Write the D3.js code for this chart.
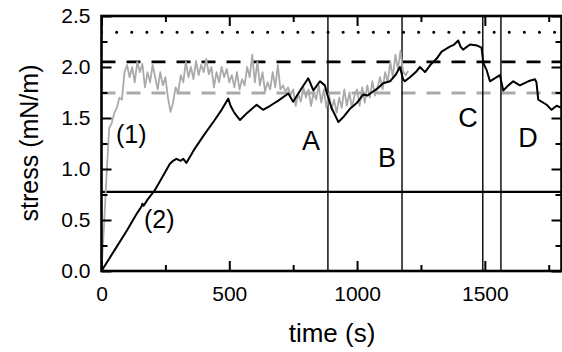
<!DOCTYPE html>
<html>
<head>
<meta charset="utf-8">
<script src="https://cdn.jsdelivr.net/npm/d3@7"></script>
<style>
  body { margin: 0; background: #fff; }
  svg { display: block; }
  text { font-family: "Liberation Sans", Arial, sans-serif; fill: #000; }
</style>
</head>
<body>
<svg></svg>
<script>
// curve (1), sampled every 10 s from t = 0
const graySamples = [
  0, 0.45, 0.95, 1.4, 1.45, 1.55, 1.6, 1.7, 1.68, 1.95,
  2.02, 1.9, 2.0, 1.85, 2.05, 1.95, 2.03, 1.8, 1.95, 1.85,
  2.02, 1.9, 1.78, 1.95, 1.82, 1.9, 1.7, 1.56, 1.65, 1.8,
  1.75, 1.92, 1.85, 2.05, 1.9, 2.0, 1.88, 2.06, 1.92, 2.02,
  1.95, 2.08, 1.93, 2.0, 1.8, 1.95, 1.85, 2.0, 1.9, 1.98,
  1.85, 1.92, 1.8, 1.95, 1.78, 1.88, 1.82, 2.0, 1.9, 2.12,
  1.85, 2.05, 1.82, 1.95, 1.76, 1.85, 1.78, 1.95, 1.8, 2.02,
  1.78, 1.82, 1.76, 1.8, 1.72, 1.78, 1.62, 1.74, 1.66, 1.8,
  1.7, 1.78, 1.62, 1.75, 1.68, 1.82, 1.65, 1.78, 1.6, 1.74,
  1.58, 1.68, 1.55, 1.7, 1.6, 1.78, 1.62, 1.75, 1.6, 1.72,
  1.78, 1.62, 1.8, 1.65, 1.82, 1.7, 1.86, 1.72, 1.8, 1.9,
  1.78, 1.95, 1.85, 2.05, 1.9, 2.12, 1.98, 2.16, 1.96, 1.92,
  1.96
];
const grayStep = 10;

// curve (2)
const blackTimes = [
  0, 50, 100, 140, 156, 160, 165, 180, 208, 240, 267, 280, 293, 310, 320, 332,
  360, 400, 443, 470, 496, 505, 520, 542, 570, 607, 632, 660, 692, 731, 750,
  780, 809, 829, 855, 874, 881, 900, 927, 950, 972, 1000, 1024, 1040, 1063,
  1080, 1102, 1129, 1150, 1168, 1180, 1187, 1207, 1230, 1246, 1266, 1290,
  1311, 1331, 1363, 1380, 1396, 1405, 1415, 1442, 1470, 1487, 1494, 1507,
  1520, 1540, 1559, 1565, 1572, 1592, 1611, 1637, 1670, 1696, 1702, 1709,
  1742, 1761, 1781, 1800
];
const blackValues = [
  0, 0.2, 0.4, 0.57, 0.63, 0.66, 0.64, 0.7, 0.79, 0.93, 1.05, 1.08, 1.1, 1.08, 1.1, 1.06,
  1.18, 1.33, 1.48, 1.58, 1.69, 1.62, 1.55, 1.48, 1.55, 1.63, 1.58, 1.62, 1.67, 1.74, 1.66,
  1.78, 1.89, 1.77, 1.86, 1.82, 1.75, 1.6, 1.46, 1.52, 1.59, 1.65, 1.73, 1.72, 1.76,
  1.79, 1.84, 1.86, 1.92, 2.0, 1.88, 1.86, 1.9, 1.95, 2.0, 1.95, 2.03,
  2.08, 2.15, 2.2, 2.22, 2.26, 2.2, 2.17, 2.22, 2.21, 2.19, 2.04, 1.97,
  1.86, 1.89, 1.92, 1.85, 1.77, 1.82, 1.86, 1.82, 1.86, 1.88, 1.85, 1.68,
  1.63, 1.58, 1.62, 1.6
];

// reference levels and event markers
const dottedLevel = 2.34;
const dashedLevel = 2.05;
const grayDashedLevel = 1.745;
const solidLevel = 0.775;
const eventTimes = [886, 1176, 1492, 1563];
const eventNames = ['A', 'B', 'C', 'D'];

const xMajor = [0, 500, 1000, 1500];
const xMinor = [250, 750, 1250, 1750];
const yMajor = [0, 0.5, 1.0, 1.5, 2.0, 2.5];
const yMinor = [0.25, 0.75, 1.25, 1.75, 2.25];

const width = 562;
const height = 352;
const svg = d3.select('svg').attr('width', width).attr('height', height);

const x = d3.scaleLinear().domain([0, 1800]).range([101.5, 561.5]);
const y = d3.scaleLinear().domain([0, 2.5]).range([271, 16]);

const plotLeft = x.range()[0], plotRight = x.range()[1];
const plotTop = y.range()[1], plotBottom = y.range()[0];

svg.append('clipPath').attr('id', 'plot')
  .append('rect')
  .attr('x', plotLeft).attr('y', plotTop)
  .attr('width', plotRight - plotLeft).attr('height', plotBottom - plotTop);

const plot = svg.append('g').attr('clip-path', 'url(#plot)');

// horizontal reference lines
const hline = (v, color, w, dash, cap) => {
  plot.append('line')
    .attr('x1', plotLeft).attr('x2', plotRight)
    .attr('y1', y(v)).attr('y2', y(v))
    .attr('stroke', color)
    .attr('stroke-width', w)
    .attr('stroke-dasharray', dash)
    .attr('stroke-linecap', cap || 'butt');
};
hline(dottedLevel, '#000', 3, '0.1 15', 'round');
hline(dashedLevel, '#000', 2.8, '14 11');
hline(grayDashedLevel, '#aaa', 2.8, '14 11');
hline(solidLevel, '#000', 2.2, null);

// event markers
plot.selectAll('.event')
  .data(eventTimes)
  .enter()
  .append('line')
  .attr('class', 'event')
  .attr('x1', d => x(d)).attr('x2', d => x(d))
  .attr('y1', plotTop).attr('y2', plotBottom)
  .attr('stroke', '#000')
  .attr('stroke-width', 1.4);

// curves
const grayData = graySamples.map((v, i) => [i * grayStep, v]);
const blackData = blackTimes.map((t, i) => [t, blackValues[i]]);
const line = d3.line().x(d => x(d[0])).y(d => y(d[1]));

plot.append('path')
  .datum(grayData)
  .attr('d', line)
  .attr('fill', 'none')
  .attr('stroke', '#aaa')
  .attr('stroke-width', 1.8)
  .attr('stroke-linejoin', 'round');

plot.append('path')
  .datum(blackData)
  .attr('d', line)
  .attr('fill', 'none')
  .attr('stroke', '#000')
  .attr('stroke-width', 2)
  .attr('stroke-linejoin', 'round');

// axes: inward ticks on all four sides
const styleAxis = (g) => {
  g.select('.domain').remove();
  g.selectAll('.tick line').attr('stroke', '#000').attr('stroke-width', 2);
  g.selectAll('.tick text').style('font-size', '21px').attr('fill', '#000');
};

svg.append('g').attr('transform', `translate(0,${plotBottom})`)
  .call(d3.axisBottom(x).tickValues(xMajor).tickFormat(d3.format('d'))
    .tickSizeInner(-10).tickSizeOuter(0).tickPadding(15))
  .call(styleAxis);
svg.append('g').attr('transform', `translate(0,${plotBottom})`)
  .call(d3.axisBottom(x).tickValues(xMinor).tickFormat('').tickSizeInner(-6).tickSizeOuter(0))
  .call(styleAxis);
svg.append('g').attr('transform', `translate(0,${plotTop})`)
  .call(d3.axisTop(x).tickValues(xMajor).tickFormat('').tickSizeInner(-10).tickSizeOuter(0))
  .call(styleAxis);
svg.append('g').attr('transform', `translate(0,${plotTop})`)
  .call(d3.axisTop(x).tickValues(xMinor).tickFormat('').tickSizeInner(-6).tickSizeOuter(0))
  .call(styleAxis);

svg.append('g').attr('transform', `translate(${plotLeft},0)`)
  .call(d3.axisLeft(y).tickValues(yMajor).tickFormat(d3.format('.1f'))
    .tickSizeInner(-10).tickSizeOuter(0).tickPadding(11))
  .call(styleAxis);
svg.append('g').attr('transform', `translate(${plotLeft},0)`)
  .call(d3.axisLeft(y).tickValues(yMinor).tickFormat('').tickSizeInner(-6).tickSizeOuter(0))
  .call(styleAxis);
svg.append('g').attr('transform', `translate(${plotRight},0)`)
  .call(d3.axisRight(y).tickValues(yMajor).tickFormat('').tickSizeInner(-10).tickSizeOuter(0))
  .call(styleAxis);
svg.append('g').attr('transform', `translate(${plotRight},0)`)
  .call(d3.axisRight(y).tickValues(yMinor).tickFormat('').tickSizeInner(-6).tickSizeOuter(0))
  .call(styleAxis);

// frame
svg.append('rect')
  .attr('x', plotLeft).attr('y', plotTop)
  .attr('width', plotRight - plotLeft).attr('height', plotBottom - plotTop)
  .attr('fill', 'none')
  .attr('stroke', '#000')
  .attr('stroke-width', 2.6);

// axis titles
svg.append('text')
  .attr('x', 332).attr('y', 342)
  .attr('text-anchor', 'middle')
  .style('font-size', '26px')
  .text('time (s)');

svg.append('text')
  .attr('transform', 'translate(38,143) rotate(-90)')
  .attr('text-anchor', 'middle')
  .style('font-size', '25px')
  .text('stress (mN/m)');

// curve labels
svg.append('text').attr('x', 116).attr('y', 143).style('font-size', '25px').text('(1)');
svg.append('text').attr('x', 144).attr('y', 228).style('font-size', '25px').text('(2)');

// event labels
const eventLabelX = [311, 387, 468, 528];
const eventLabelY = [150, 167, 127, 147];
svg.selectAll('.eventLabel')
  .data(eventNames)
  .enter()
  .append('text')
  .attr('class', 'eventLabel')
  .attr('x', (d, i) => eventLabelX[i])
  .attr('y', (d, i) => eventLabelY[i])
  .attr('text-anchor', 'middle')
  .style('font-size', '27px')
  .text(d => d);
</script>
</body>
</html>
